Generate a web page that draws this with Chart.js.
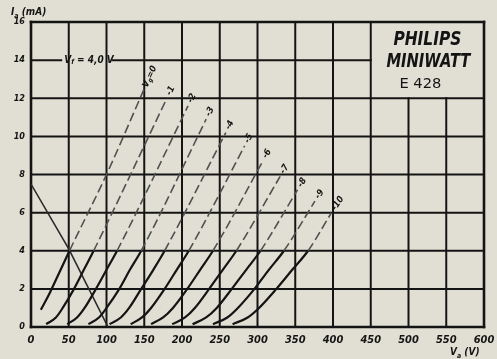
<!DOCTYPE html>
<html>
<head>
<meta charset="utf-8">
<script src="https://cdn.jsdelivr.net/npm/chart.js@4.4.1/dist/chart.umd.min.js"></script>
<style>
  html, body { margin: 0; padding: 0; background: #e1dfd3; }
  #wrap { width: 497px; height: 359px; }
</style>
</head>
<body>
<div id="wrap"><canvas id="chart" width="497" height="359"></canvas></div>
<script>
// E 428 anode characteristics, Ia (mA) against Va (V), one curve per grid voltage
var gridVolts = [0, -1, -2, -3, -4, -5, -6, -7, -8, -9, -10];
var curveLabels = ['Vg=0', '-1', '-2', '-3', '-4', '-5', '-6', '-7', '-8', '-9', '-10'];

// anode voltage per curve (last point = end of the dashed part)
var anodeVolts = [
  [13, 25, 38, 51, 100, 150],
  [20, 33, 42, 57, 70, 83, 180],
  [48, 61, 71, 86, 100, 114, 208],
  [76, 90, 100, 117, 131, 146, 232],
  [104, 119, 130, 146, 162, 177, 258],
  [132, 147, 159, 177, 193, 209, 283],
  [159, 175, 188, 207, 224, 241, 307],
  [187, 204, 217, 236, 254, 272, 330],
  [214, 232, 246, 266, 285, 304, 353],
  [241, 260, 274, 296, 315, 335, 376],
  [267, 287, 302, 325, 346, 367, 398]
];
// anode current per curve
var anodeAmps = [
  [0.9, 1.8, 2.9, 4.0, 8.0, 12.5],
  [0.15, 0.5, 1, 2, 3, 4, 12.0],
  [0.15, 0.5, 1, 2, 3, 4, 11.6],
  [0.15, 0.5, 1, 2, 3, 4, 10.9],
  [0.15, 0.5, 1, 2, 3, 4, 10.2],
  [0.15, 0.5, 1, 2, 3, 4, 9.5],
  [0.15, 0.5, 1, 2, 3, 4, 8.7],
  [0.15, 0.5, 1, 2, 3, 4, 7.9],
  [0.15, 0.5, 1, 2, 3, 4, 7.2],
  [0.15, 0.5, 1, 2, 3, 4, 6.6],
  [0.15, 0.5, 1, 2, 3, 4, 6.0]
];

// the falling line from the Ia axis
var loadVolts = [0, 50, 102];
var loadAmps = [7.5, 4.1, 0];

var xTicks = [0, 50, 100, 150, 200, 250, 300, 350, 400, 450, 500, 550, 600];
var yTicks = [0, 2, 4, 6, 8, 10, 12, 14, 16];

var FONT = '"Liberation Sans Narrow", "DejaVu Sans Condensed", "Liberation Sans", sans-serif';
var INK = '#141414';

function pts(xs, ys) {
  return xs.map(function (v, i) { return { x: v, y: ys[i] }; });
}

var datasets = [];
anodeVolts.forEach(function (va, k) {
  datasets.push({
    label: curveLabels[k],
    data: pts(va, anodeAmps[k]),
    showLine: true,
    pointRadius: 0,
    borderColor: INK,
    borderWidth: 2.2,
    cubicInterpolationMode: 'monotone',
    segment: {
      // upper part of each curve is printed lighter and broken
      borderDash: function (ctx) { return ctx.p0.parsed.y >= 3.95 ? [9, 4] : undefined; },
      borderColor: function (ctx) { return ctx.p0.parsed.y >= 3.95 ? '#505050' : INK; },
      borderWidth: function (ctx) { return ctx.p0.parsed.y >= 3.95 ? 1.6 : 2.2; }
    }
  });
});
datasets.push({
  label: 'load',
  data: pts(loadVolts, loadAmps),
  showLine: true,
  pointRadius: 0,
  borderColor: '#2a2a2a',
  borderWidth: 1.6,
  tension: 0
});

// draw text with a subscript part: parts = [[text, isSub], ...]
function subText(ctx, parts, x, y, size) {
  var cx = x;
  parts.forEach(function (p) {
    var s = p[1] ? Math.round(size * 0.7) : size;
    ctx.font = 'italic bold ' + s + 'px ' + FONT;
    ctx.fillText(p[0], cx, y + (p[1] ? size * 0.25 : 0));
    cx += ctx.measureText(p[0]).width;
  });
}

function fitText(ctx, txt, cx, y, w) {
  var m = ctx.measureText(txt).width;
  ctx.save();
  ctx.translate(cx, y);
  ctx.scale(w / m, 1);
  ctx.textAlign = 'center';
  ctx.fillText(txt, 0, 0);
  ctx.restore();
}

var sheetPlugin = {
  id: 'sheet',
  beforeDatasetsDraw: function (chart) {
    var ctx = chart.ctx, xs = chart.scales.x, ys = chart.scales.y;
    function seg(x0, y0, x1, y1) {
      ctx.beginPath();
      ctx.moveTo(xs.getPixelForValue(x0), ys.getPixelForValue(y0));
      ctx.lineTo(xs.getPixelForValue(x1), ys.getPixelForValue(y1));
      ctx.stroke();
    }
    ctx.save();
    ctx.strokeStyle = INK;
    ctx.lineCap = 'square';
    xTicks.forEach(function (v) {
      ctx.lineWidth = (v === 0 || v === 600) ? 2.6 : 2;
      // name plate covers 450..600 V, 12..16 mA
      seg(v, 0, v, (v > 450 && v < 600) ? 12 : 16);
    });
    yTicks.forEach(function (a) {
      ctx.lineWidth = (a === 0 || a === 16) ? 2.6 : 2;
      if (a === 14) {
        seg(0, a, 40, a);
        seg(108, a, 450, a);
      } else {
        seg(0, a, 600, a);
      }
    });
    ctx.restore();
  },
  afterDatasetsDraw: function (chart) {
    var ctx = chart.ctx, xs = chart.scales.x, ys = chart.scales.y;
    ctx.save();
    ctx.fillStyle = INK;
    ctx.textBaseline = 'alphabetic';

    // grid voltage labels at the end of each curve, along the line
    anodeVolts.forEach(function (va, k) {
      var n = va.length - 1;
      var px = xs.getPixelForValue(va[n]), py = ys.getPixelForValue(anodeAmps[k][n]);
      var qx = xs.getPixelForValue(va[n - 2]), qy = ys.getPixelForValue(anodeAmps[k][n - 2]);
      var ang = Math.atan2(py - qy, px - qx);
      var gap = k === 0 ? 2 : 4;
      ctx.save();
      ctx.translate(px + Math.cos(ang) * gap, py + Math.sin(ang) * gap);
      ctx.rotate(ang);
      ctx.textBaseline = 'middle';
      ctx.textAlign = 'left';
      if (k === 0) {
        subText(ctx, [['V', false], ['g', true], ['=0', false]], 0, 0, 9);
      } else {
        ctx.font = 'italic bold 9px ' + FONT;
        ctx.fillText(curveLabels[k], 0, 0);
      }
      ctx.restore();
    });

    // filament voltage note on the 14 mA line
    ctx.textBaseline = 'middle';
    subText(ctx, [['V', false], ['f', true], [' = 4,0 V', false]],
      xs.getPixelForValue(44), ys.getPixelForValue(14), 10);

    // axis titles
    ctx.textBaseline = 'alphabetic';
    subText(ctx, [['I', false], ['a', true], [' (mA)', false]], 11, 15, 10);
    subText(ctx, [['V', false], ['a', true], [' (V)', false]], 450, 355, 10);

    // name plate
    var cx = xs.getPixelForValue(525);
    ctx.font = 'italic bold 20px ' + FONT;
    fitText(ctx, 'PHILIPS', cx, ys.getPixelForValue(14.8), 68);
    fitText(ctx, 'MINIWATT', cx + 1, ys.getPixelForValue(13.65), 84);
    ctx.font = '14px ' + FONT;
    fitText(ctx, 'E 428', cx - 7, ys.getPixelForValue(12.55), 42);
    ctx.restore();
  }
};

new Chart(document.getElementById('chart'), {
  type: 'scatter',
  data: { datasets: datasets },
  options: {
    responsive: false,
    animation: false,
    devicePixelRatio: 1,
    layout: { padding: { top: 22, right: 13, bottom: 0, left: 0 } },
    plugins: {
      legend: { display: false },
      tooltip: { enabled: false }
    },
    scales: {
      x: {
        type: 'linear', min: 0, max: 600,
        afterFit: function (scale) {
          scale.height = 32;
          scale.paddingLeft = 0;
          scale.paddingRight = 0;
        },
        afterBuildTicks: function (scale) { scale.ticks = xTicks.map(function (v) { return { value: v }; }); },
        grid: { display: false, drawTicks: false },
        border: { display: false },
        ticks: {
          padding: 7, color: INK, maxRotation: 0, autoSkip: false,
          font: { family: FONT, size: 11, style: 'italic', weight: 'bold' }
        }
      },
      y: {
        type: 'linear', min: 0, max: 16,
        afterFit: function (scale) {
          scale.width = 31;
          scale.paddingTop = 0;
          scale.paddingBottom = 0;
        },
        afterBuildTicks: function (scale) { scale.ticks = yTicks.map(function (v) { return { value: v }; }); },
        grid: { display: false, drawTicks: false },
        border: { display: false },
        ticks: {
          padding: 6, color: INK, autoSkip: false,
          font: { family: FONT, size: 9, style: 'italic', weight: 'bold' }
        }
      }
    }
  },
  plugins: [sheetPlugin]
});
</script>
</body>
</html>
